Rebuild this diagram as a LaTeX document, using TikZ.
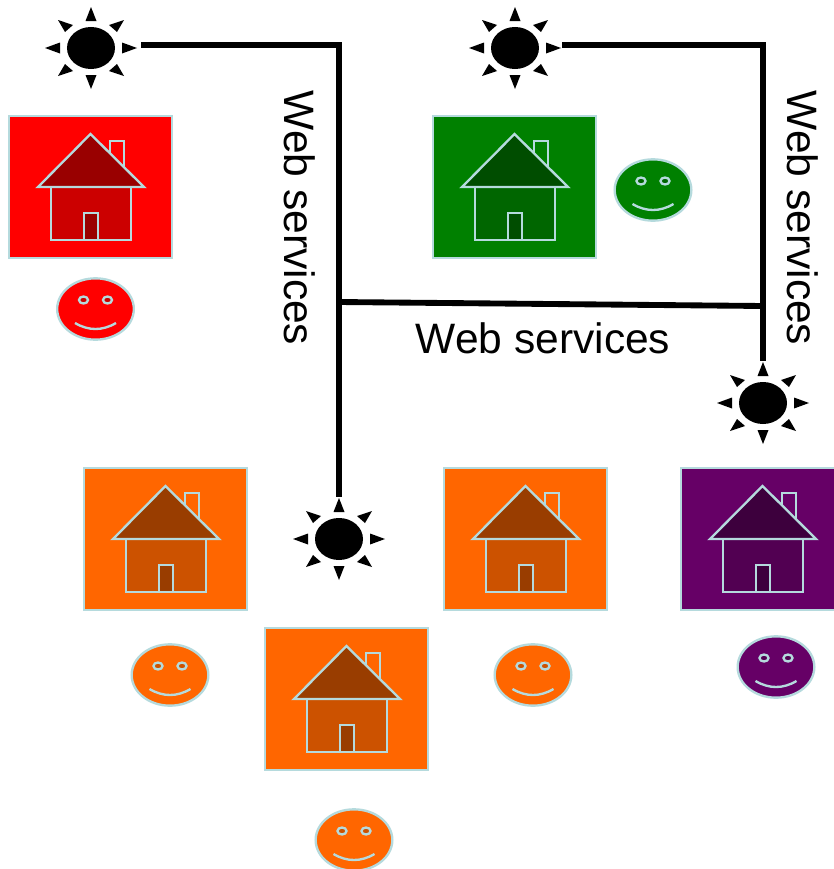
\documentclass[tikz,border=0pt]{standalone}
\usepackage{fontspec}
\setmainfont{Liberation Sans}
\usetikzlibrary{shapes.geometric}

\definecolor{edgeblue}{HTML}{B5DADD}
\definecolor{redbox}{HTML}{FF0000}
\definecolor{redbody}{HTML}{CC0000}
\definecolor{redroof}{HTML}{990000}
\definecolor{greenbox}{HTML}{008000}
\definecolor{greenbody}{HTML}{006600}
\definecolor{greenroof}{HTML}{004D00}
\definecolor{orangebox}{HTML}{FF6600}
\definecolor{orangebody}{HTML}{CC5200}
\definecolor{orangeroof}{HTML}{993D00}
\definecolor{purplebox}{HTML}{660066}
\definecolor{purplebody}{HTML}{520052}
\definecolor{purpleroof}{HTML}{3D003D}

\begin{document}
\begin{tikzpicture}[
        x=0.03cm, y=-0.03cm,
        % --- Styles ---
        % 1. Outline shared by houses and faces
        outline/.style={
                draw=edgeblue,
                line width=2pt
            },
        % 2. Square behind each house
        homebox/.style={
                outline,
                rectangle,
                inner sep=0pt,
                minimum width=4.89cm,
                minimum height=4.26cm
            },
        % 3. Face and sun discs
        head/.style={
                outline,
                ellipse,
                inner sep=0pt,
                minimum width=2.3cm,
                minimum height=1.84cm
            },
        suncore/.style={
                ellipse,
                fill=black,
                inner sep=0pt,
                minimum width=1.44cm,
                minimum height=1.26cm
            },
        % 4. Thick wires and their labels
        wire/.style={
                line width=5pt,
                black
            },
        wirelabel/.style={
                font=\fontsize{36.3}{36.3}\selectfont,
                inner sep=0pt
            },
        % --- Pics: box colour, body colour, roof colour ---
        pics/home/.style n args={3}{code={
                    \node[homebox, fill=#1] (-box) at (0,0) {};
                    \filldraw[outline, fill=#1] (19.5,-46) rectangle (33.5,-14);
                    \filldraw[outline, fill=#2] (-39.5,0) rectangle (40.5,53);
                    \filldraw[outline, fill=#3] (-52.5,0) -- (0,-53) -- (53.5,0) -- cycle;
                    \filldraw[outline, fill=#3] (-6.5,26) rectangle (7.5,53);
                }},
        % --- Face colour, eye colour ---
        pics/smiley/.style n args={2}{code={
                    \node[head, fill=#1] (-head) at (0,0) {};
                    \filldraw[outline, fill=#2] (-12,-9) circle[x radius=4.5, y radius=3.5];
                    \filldraw[outline, fill=#2] (12,-9) circle[x radius=4.5, y radius=3.5];
                    \draw[outline] (-20.5,14) .. controls (-7,22) and (7,22) .. (20.5,14);
                }},
        pics/sun/.style={code={
                    \node[suncore] (-core) at (0,0) {};
                    \foreach \s in {-1,1} {
                            \fill (\s*31,-5.5) -- (\s*46,0) -- (\s*31,5.5) -- cycle;
                            \fill (-5.5,\s*27) -- (0,\s*41) -- (5.5,\s*27) -- cycle;
                            \fill (\s*18,-23) -- (\s*33,-28) -- (\s*26,-16) -- cycle;
                            \fill (\s*18,23) -- (\s*33,28) -- (\s*26,16) -- cycle;
                        }
                }}
    ]

    \useasboundingbox (0,0) rectangle (833,869);

    % 1. Houses
    \pic (homeRed) at (90.5,187) {home={redbox}{redbody}{redroof}};
    \pic (homeGreen) at (514.5,187) {home={greenbox}{greenbody}{greenroof}};
    \pic (homeLeft) at (165.5,539) {home={orangebox}{orangebody}{orangeroof}};
    \pic (homeRight) at (525.5,539) {home={orangebox}{orangebody}{orangeroof}};
    \pic (homeLow) at (346.5,699) {home={orangebox}{orangebody}{orangeroof}};
    \pic (homePurple) at (762.5,539) {home={purplebox}{purplebody}{purpleroof}};

    % 2. Faces
    \pic (faceRed) at (95.5,309) {smiley={redbox}{redbody}};
    \pic (faceGreen) at (653,190) {smiley={greenbox}{greenbody}};
    \pic (faceLeft) at (170,675) {smiley={orangebox}{orangebody}};
    \pic (faceRight) at (533,675) {smiley={orangebox}{orangebody}};
    \pic (faceLow) at (354,840) {smiley={orangebox}{orangebody}};
    \pic (facePurple) at (776,667) {smiley={purplebox}{purplebody}};

    % 3. Suns
    \pic (sunA) at (91,48) {sun};
    \pic (sunB) at (515,48) {sun};
    \pic (sunC) at (763,403) {sun};
    \pic (sunD) at (339,539) {sun};

    % 4. Wires
    \coordinate (tapA) at (141,45);
    \coordinate (tapB) at (562,45);
    \coordinate (tapC) at (763,361);
    \coordinate (tapD) at (339,497);
    \coordinate (hubLeft) at (339,302);
    \coordinate (hubRight) at (763,306);

    \draw[wire] (tapA) -| (tapD);
    \draw[wire] (tapB) -| (tapC);
    \draw[wire] (hubLeft) -- (hubRight);

    % 5. Labels
    \node[wirelabel, rotate=-90] (labelLeft) at (300,218) {Web services};
    \node[wirelabel, rotate=-90] (labelRight) at (803,218) {Web services};
    \node[wirelabel] (labelMid) at (543,338) {Web services};

\end{tikzpicture}
\end{document}
